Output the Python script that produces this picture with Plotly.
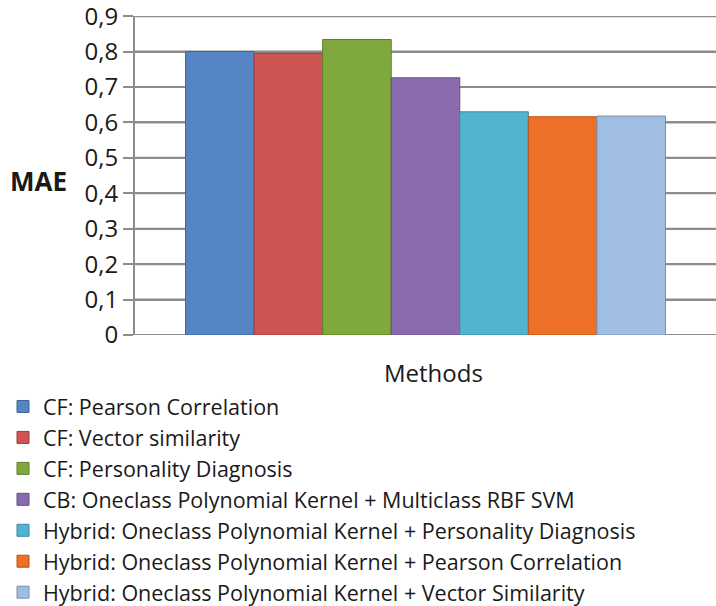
import plotly.graph_objects as go

methods = [
    "CF: Pearson Correlation",
    "CF: Vector similarity",
    "CF: Personality Diagnosis",
    "CB: Oneclass Polynomial Kernel + Multiclass RBF SVM",
    "Hybrid: Oneclass Polynomial Kernel + Personality Diagnosis",
    "Hybrid: Oneclass Polynomial Kernel + Pearson Correlation",
    "Hybrid: Oneclass Polynomial Kernel + Vector Similarity",
]
mae = [0.800, 0.795, 0.834, 0.726, 0.630, 0.616, 0.618]
colors = ["#5585C4", "#CD5552", "#7FA93D", "#8A6CAE", "#52B4CF", "#EE7026", "#A0BDE3"]
edges = ["#3F6496", "#9E3C3A", "#5E7E2C", "#654E84", "#3A8AA0", "#B8531A", "#7890B0"]
category = ["Methods"]
yticks = [0, 0.1, 0.2, 0.3, 0.4, 0.5, 0.6, 0.7, 0.8, 0.9]
ytick_labels = ["0", "0,1", "0,2", "0,3", "0,4", "0,5", "0,6", "0,7", "0,8", "0,9"]

FONT = "Open Sans"
GRID = "#8c8c8c"
W, H = 716, 606
L, R, T, B = 135, 0, 16, 271
PW, PH = W - L - R, H - T - B

fig = go.Figure()
for name, v, c, e in zip(methods, mae, colors, edges):
    fig.add_trace(go.Bar(
        x=category, y=[v], name=name,
        marker=dict(color=c, line=dict(color=e, width=1)),
    ))

# horizontal gridlines at each y tick (drawn between grid and bars)
for tv in yticks:
    fig.add_shape(type="line", xref="paper", yref="y", x0=0, x1=1, y0=tv, y1=tv,
                  line=dict(color=GRID, width=2), layer="between")

fig.update_layout(
    width=W, height=H,
    margin=dict(l=L, r=R, t=T, b=B, autoexpand=False),
    paper_bgcolor="white", plot_bgcolor="rgba(0,0,0,0)",
    barmode="group", bargap=0.174, bargroupgap=0,
    font=dict(family=FONT, color="#1a1a1a"),
    showlegend=True,
    legend=dict(
        xref="paper", yref="paper",
        x=(3 - L) / PW, y=(H - B - 386) / PH, xanchor="left", yanchor="top",
        font=dict(size=21.5, family=FONT, color="#1a1a1a"),
        traceorder="normal", tracegroupgap=0,
        itemwidth=30, bgcolor="rgba(0,0,0,0)",
    ),
    xaxis=dict(
        showticklabels=False, ticks="",
        showline=False, showgrid=False,
        fixedrange=True,
    ),
    yaxis=dict(
        range=[0, 0.9004], tickvals=yticks, ticktext=ytick_labels,
        showline=True, linecolor=GRID, linewidth=2,
        showgrid=True, gridcolor=GRID, gridwidth=2,
        ticks="outside", ticklen=10, tickwidth=2, tickcolor=GRID,
        tickfont=dict(size=24, family=FONT, color="#1a1a1a"),
        zeroline=False,
        ticklabelstandoff=0,
        ticklabeloverflow="allow",
    ),
    annotations=[
        dict(text="<b>MAE</b>", xref="paper", yref="paper",
             x=(8 - L) / PW, y=(H - B - 181) / PH, xanchor="left", yanchor="middle",
             showarrow=False, font=dict(size=26, family=FONT, color="#1a1a1a")),
        dict(text="Methods", xref="paper", yref="paper",
             x=(433 - L) / PW, y=(H - B - 372) / PH, xanchor="center", yanchor="middle",
             showarrow=False, font=dict(size=24, family=FONT, color="#1a1a1a")),
    ],
)

fig.write_html("out.html")
